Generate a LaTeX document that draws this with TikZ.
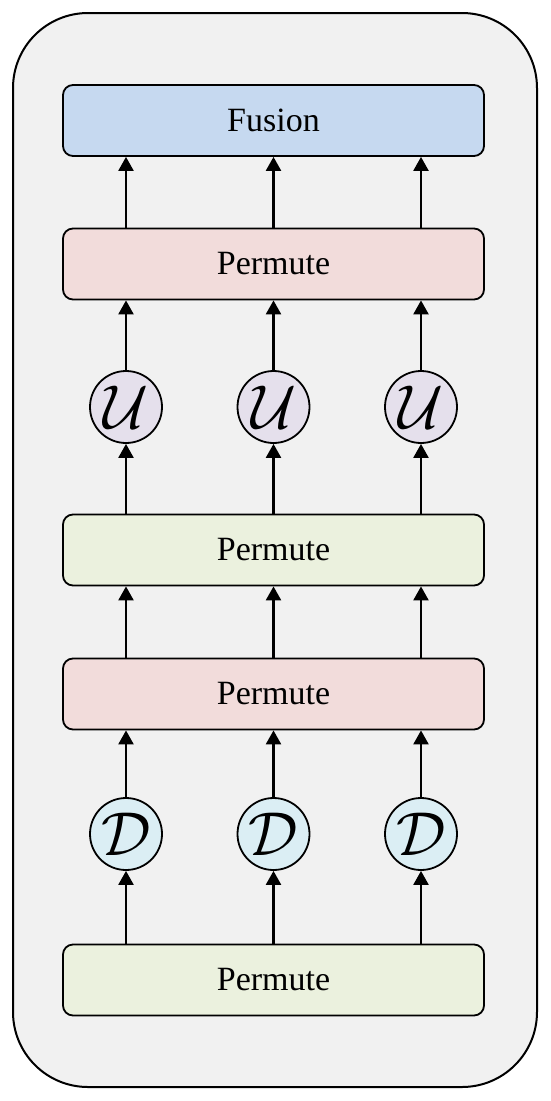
\RequirePackage{fix-cm}
\documentclass[tikz,border=0pt]{standalone}
\usepackage{fontspec}
\setmainfont{Liberation Serif}
\usetikzlibrary{arrows.meta}
\definecolor{framefill}{HTML}{F1F1F1}
\definecolor{fusefill}{HTML}{C6D9F0}
\definecolor{redfill}{HTML}{F2DCDB}
\definecolor{greenfill}{HTML}{EBF1DE}
\definecolor{upfill}{HTML}{E5E0EC}
\definecolor{downfill}{HTML}{DBEEF4}
\tikzset{
  blk/.style={draw=black,line width=1.8pt,rounded corners=10pt,minimum width=421pt,
    minimum height=71pt,inner sep=0pt,font=\fontsize{34}{40}\selectfont},
  op/.style={draw=black,line width=1.8pt,circle,minimum size=72pt,inner sep=0pt,
    font=\fontsize{62}{70}\selectfont},
  flow/.style={line width=2.4pt,-{Triangle[length=14pt,width=15pt]}}
}
\begin{document}
\begin{tikzpicture}[x=1pt,y=-1pt]
  \useasboundingbox (0,0) rectangle (550,1101);
  \draw[fill=framefill,line width=2pt,rounded corners=75pt] (13,13) rectangle (537,1087);
  % blocks
  \node[blk,fill=fusefill] (fusion) at (273.5,120.5) {Fusion};
  \node[blk,fill=redfill] (permA) at (273.5,264) {Permute};
  \node[blk,fill=greenfill] (permB) at (273.5,550) {Permute};
  \node[blk,fill=redfill] (permC) at (273.5,694) {Permute};
  \node[blk,fill=greenfill] (permD) at (273.5,980) {Permute};
  % operators
  \foreach \i/\x in {1/126,2/273.5,3/421}{
    \node[op,fill=upfill] (u\i) at (\x,407) {$\mathcal{U}$};
    \node[op,fill=downfill] (d\i) at (\x,834) {$\mathcal{D}$};
  }
  % arrows
  \foreach \i in {1,2,3}{
    \draw[flow] (permD.north -| d\i) -- (d\i);
    \draw[flow] (d\i) -- (permC.south -| d\i);
    \draw[flow] (permC.north -| d\i) -- (permB.south -| d\i);
    \draw[flow] (permB.north -| u\i) -- (u\i);
    \draw[flow] (u\i) -- (permA.south -| u\i);
    \draw[flow] (permA.north -| u\i) -- (fusion.south -| u\i);
  }
\end{tikzpicture}
\end{document}
